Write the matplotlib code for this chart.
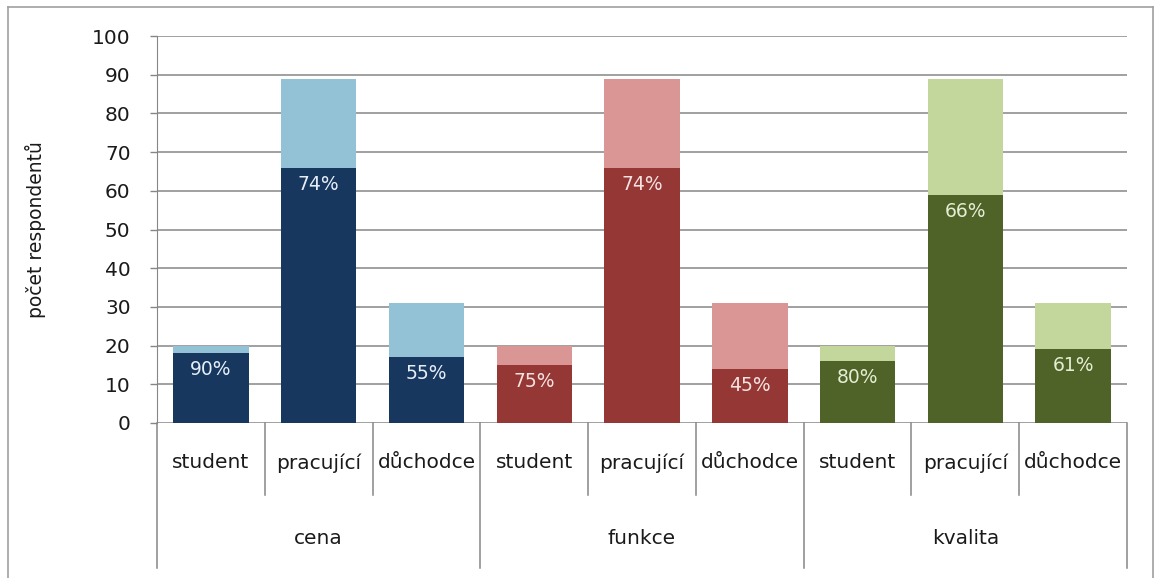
import matplotlib
matplotlib.use('Agg')
import matplotlib.pyplot as plt
import matplotlib.transforms as mtransforms
import numpy as np

# Data: respondents per group and role; dark part = satisfied share
skupiny = ['cena', 'funkce', 'kvalita']
role = ['student', 'pracující', 'důchodce']
celkem = {
    'cena':    [20, 89, 31],
    'funkce':  [20, 89, 31],
    'kvalita': [20, 89, 31],
}
spokojeni = {
    'cena':    [18, 66, 17],
    'funkce':  [15, 66, 14],
    'kvalita': [16, 59, 19],
}
y_ticks = list(range(0, 101, 10))

# Colours per group: (dark, light, label text)
BARVY = {
    'cena':    ('#17375E', '#93C1D5', '#E6EEF7'),
    'funkce':  ('#953735', '#D99694', '#F5E2E1'),
    'kvalita': ('#4F6228', '#C3D69B', '#E4EED2'),
}
COR_GRID = '#868686'
COR_TEXT = '#1A1A1A'

plt.rcParams['font.family'] = ['DejaVu Sans']

W, H = 1155, 578
fig = plt.figure(figsize=(W / 100, H / 100), dpi=100)
ax = fig.add_axes([157 / W, 1 - 423 / H, (1127 - 157) / W, (423 - 36) / H])

n_role = len(role)
for gi, g in enumerate(skupiny):
    x = np.arange(n_role) + gi * n_role
    tmava, svetla, txt = BARVY[g]
    spok = np.array(spokojeni[g])
    zbytek = np.array(celkem[g]) - spok
    bars = ax.bar(x, spok, width=0.7, color=tmava, zorder=3)
    ax.bar(x, zbytek, bottom=spok, width=0.7, color=svetla, zorder=3)
    for b, s, c in zip(bars, spok, celkem[g]):
        ax.annotate(f'{round(100 * s / c)}%',
                    (b.get_x() + b.get_width() / 2, b.get_height()),
                    xytext=(0, -5), textcoords='offset points',
                    ha='center', va='top', fontsize=13.5, color=txt, zorder=4)

n = n_role * len(skupiny)
ax.set_xlim(-0.5, n - 0.5)
ax.set_ylim(0, 100)
ax.set_yticks(y_ticks)
ax.tick_params(axis='y', length=5, width=1, color=COR_GRID, pad=14,
               labelsize=14.5, labelcolor=COR_TEXT)
ax.set_xticks([])
ax.yaxis.grid(True, color=COR_GRID, linewidth=1.1, zorder=0)
ax.set_axisbelow(True)
for s in ['top', 'right', 'bottom']:
    ax.spines[s].set_visible(False)
ax.spines['left'].set_color(COR_GRID)
ax.spines['left'].set_bounds(0, 100)

ax.set_ylabel('počet respondentů', fontsize=13.5, color=COR_TEXT, labelpad=33)

# Two-level category axis drawn below the plot
tr = mtransforms.blended_transform_factory(ax.transData, ax.transAxes)
y_role = (423 - 495) / 387
y_skup = (423 - 568) / 387
for i in range(n + 1):
    xe = i - 0.5
    dolu = y_skup if i % n_role == 0 else y_role
    ax.plot([xe, xe], [0, dolu], transform=tr, color=COR_GRID, lw=1.1,
            clip_on=False)
for gi, g in enumerate(skupiny):
    for ri, r in enumerate(role):
        ax.text(gi * n_role + ri, (423 - 463) / 387, r, transform=tr,
                ha='center', va='center', fontsize=14.5, color=COR_TEXT)
    ax.text(gi * n_role + (n_role - 1) / 2, (423 - 538) / 387, g,
            transform=tr, ha='center', va='center', fontsize=14.5,
            color=COR_TEXT)

# Outer chart frame
fig.add_artist(plt.Line2D([8 / W, 8 / W], [0, 1 - 7 / H], color='#A0A0A0', lw=1.2))
fig.add_artist(plt.Line2D([8 / W, 1153 / W], [1 - 7 / H, 1 - 7 / H], color='#A0A0A0', lw=1.2))
fig.add_artist(plt.Line2D([1153 / W, 1153 / W], [0, 1 - 7 / H], color='#A0A0A0', lw=1.2))

fig.savefig('out.png', dpi=100, facecolor='white')
